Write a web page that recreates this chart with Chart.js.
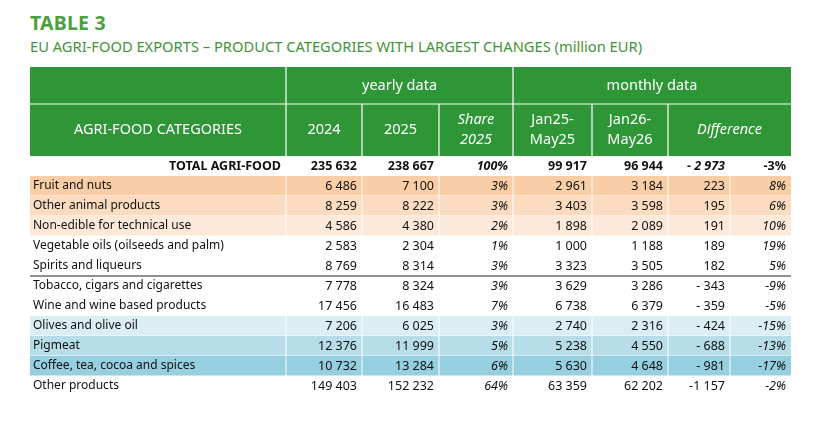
<!DOCTYPE html>
<html><head><meta charset="utf-8">
<script src="https://cdn.jsdelivr.net/npm/chart.js@4"></script>
<style>
body{margin:0;background:#fff;font-family:"Noto Sans",sans-serif}
#t1{position:absolute;left:30px;top:9px;font:bold 19.5px "Noto Sans";color:#4b9f3c;letter-spacing:0.2px}
#t2{position:absolute;left:30px;top:36px;font:14.7px "Noto Sans";color:#3f9536}
#wrap{position:absolute;left:0;top:0;width:820px;height:421px}
</style></head><body>
<div id="t1">TABLE 3</div>
<div id="t2">EU AGRI-FOOD EXPORTS – PRODUCT CATEGORIES WITH LARGEST CHANGES (million EUR)</div>
<div id="wrap"><canvas id="c"></canvas></div>
<script>
const categories = ["Fruit and nuts","Other animal products","Non-edible for technical use","Vegetable oils (oilseeds and palm)","Spirits and liqueurs","Tobacco, cigars and cigarettes","Wine and wine based products","Olives and olive oil","Pigmeat","Coffee, tea, cocoa and spices","Other products"];
const y2024 = ["6 486","8 259","4 586","2 583","8 769","7 778","17 456","7 206","12 376","10 732","149 403"];
const y2025 = ["7 100","8 222","4 380","2 304","8 314","8 324","16 483","6 025","11 999","13 284","152 232"];
const share2025 = ["3%","3%","2%","1%","3%","3%","7%","3%","5%","6%","64%"];
const jan25 = ["2 961","3 403","1 898","1 000","3 323","3 629","6 738","2 740","5 238","5 630","63 359"];
const jan26 = ["3 184","3 598","2 089","1 188","3 505","3 286","6 379","2 316","4 550","4 648","62 202"];
const diffAbs = ["223","195","191","189","182","- 343","- 359","- 424","- 688","- 981","-1 157"];
const diffPct = ["8%","6%","10%","19%","5%","-9%","-5%","-15%","-13%","-17%","-2%"];
const total = ["TOTAL AGRI-FOOD","235 632","238 667","100%","99 917","96 944","- 2 973","-3%"];
const rowColors = ["#f9cda5","#fbdcc1","#fde9da",null,null,null,null,"#daeef4","#b6dde8","#95cfe0",null];

// column edges in x units, rows in y units (total row = 0)
const edges = [30,286,362,439,513,592,668,730,791];
const green = "#2f9637";

const tablePlugin = {
  id: "table",
  afterDraw(chart) {
    const ctx = chart.ctx, x = chart.scales.x, y = chart.scales.y;
    const X = v => x.getPixelForValue(v), Y = v => y.getPixelForValue(v);
    const top = Y(-4.95), mid = Y(-3.1), hb = Y(-0.5);
    ctx.save();
    // header
    ctx.fillStyle = green;
    ctx.fillRect(X(30), top, X(791) - X(30), hb - top);
    ctx.strokeStyle = "#ffffff"; ctx.lineWidth = 1.2;
    ctx.beginPath();
    ctx.moveTo(X(30), mid); ctx.lineTo(X(791), mid);
    ctx.moveTo(X(286), top); ctx.lineTo(X(286), hb);
    ctx.moveTo(X(513), top); ctx.lineTo(X(513), hb);
    [362,439,592,668].forEach(e => { ctx.moveTo(X(e), mid); ctx.lineTo(X(e), hb); });
    ctx.stroke();
    ctx.fillStyle = "#fff"; ctx.textAlign = "center"; ctx.textBaseline = "middle";
    ctx.font = "14.5px 'Noto Sans'";
    const tm = (top + mid) / 2, bm = (mid + hb) / 2;
    ctx.fillText("yearly data", (X(286) + X(513)) / 2, tm);
    ctx.fillText("monthly data", (X(513) + X(791)) / 2, tm);
    ctx.fillText("AGRI-FOOD CATEGORIES", (X(30) + X(286)) / 2, bm);
    ctx.fillText("2024", (X(286) + X(362)) / 2, bm);
    ctx.fillText("2025", (X(362) + X(439)) / 2, bm);
    ctx.fillText("Jan25-", (X(513) + X(592)) / 2, bm - 10);
    ctx.fillText("May25", (X(513) + X(592)) / 2, bm + 10);
    ctx.fillText("Jan26-", (X(592) + X(668)) / 2, bm - 10);
    ctx.fillText("May26", (X(592) + X(668)) / 2, bm + 10);
    ctx.font = "italic 14.5px 'Noto Sans'";
    ctx.fillText("Share", (X(439) + X(513)) / 2, bm - 10);
    ctx.fillText("2025", (X(439) + X(513)) / 2, bm + 10);
    ctx.fillText("Difference", (X(668) + X(791)) / 2, bm);

    // row backgrounds
    categories.forEach((c, i) => {
      const col = rowColors[i]; if (!col) return;
      const r = i + 1;
      ctx.fillStyle = col;
      ctx.fillRect(X(30), Y(r - 0.5), X(791) - X(30), Y(r + 0.5) - Y(r - 0.5));
      ctx.strokeStyle = "#fff"; ctx.lineWidth = 1;
      ctx.beginPath();
      edges.slice(1, -1).forEach(e => { ctx.moveTo(X(e), Y(r - 0.5)); ctx.lineTo(X(e), Y(r + 0.5)); });
      ctx.moveTo(X(30), Y(r + 0.5)); ctx.lineTo(X(791), Y(r + 0.5));
      ctx.stroke();
    });
    // black separator
    ctx.strokeStyle = "#222"; ctx.lineWidth = 1.2;
    ctx.beginPath(); ctx.moveTo(X(30), Y(5.5)); ctx.lineTo(X(791), Y(5.5)); ctx.stroke();

    // text
    ctx.fillStyle = "#111"; ctx.textBaseline = "middle";
    const pad = 5;
    const rightText = (t, e, r, font) => { ctx.font = font; ctx.textAlign = "right"; ctx.fillText(t, X(e) - pad, Y(r)); };
    const bf = "bold 12.5px 'Noto Sans'", bi = "italic bold 12.5px 'Noto Sans'";
    rightText(total[0], 286, 0, bf);
    rightText(total[1], 362, 0, bf);
    rightText(total[2], 439, 0, bf);
    rightText(total[3], 513, 0, bi);
    rightText(total[4], 592, 0, bf);
    rightText(total[5], 668, 0, bf);
    rightText(total[6], 730, 0, bi);
    rightText(total[7], 791, 0, bf);
    const nf = "12.5px 'Noto Sans'", itf = "italic 12.5px 'Noto Sans'";
    categories.forEach((c, i) => {
      const r = i + 1;
      ctx.font = "12px 'Noto Sans'"; ctx.textAlign = "left"; ctx.fillText(c, X(30) + 3, Y(r));
      rightText(y2024[i], 362, r, nf);
      rightText(y2025[i], 439, r, nf);
      rightText(share2025[i], 513, r, itf);
      rightText(jan25[i], 592, r, nf);
      rightText(jan26[i], 668, r, nf);
      rightText(diffAbs[i], 730, r, nf);
      rightText(diffPct[i], 791, r, itf);
    });
    ctx.restore();
  }
};

new Chart(document.getElementById("c"), {
  type: "scatter",
  data: { datasets: [{ data: [], pointRadius: 0 }] },
  options: {
    responsive: true, maintainAspectRatio: false, animation: false,
    layout: { padding: { left: 0, right: 0, top: 67, bottom: 26 } },
    plugins: { legend: { display: false }, tooltip: { enabled: false } },
    scales: {
      x: { type: "linear", min: 0, max: 820, display: false },
      y: { type: "linear", min: -4.95, max: 11.45, reverse: true, display: false }
    }
  },
  plugins: [tablePlugin]
});
</script>
</body></html>
